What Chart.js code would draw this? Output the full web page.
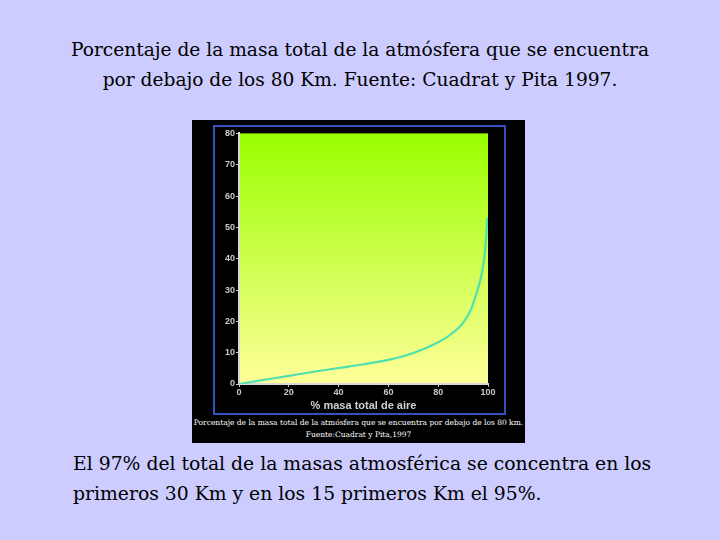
<!DOCTYPE html>
<html>
<head>
<meta charset="utf-8">
<script src="https://cdn.jsdelivr.net/npm/chart.js@4"></script>
<style>
  body { margin: 0; width: 720px; height: 540px; background: #ccccff; position: relative; overflow: hidden;
         font-family: 'DejaVu Serif', serif; color: #000; }
  #titulo { position: absolute; left: 0; top: 35px; width: 720px; text-align: center; font-size: 18.6px; line-height: 30px; }
  #caja { position: absolute; left: 192px; top: 120px; width: 333px; height: 323px; background: #000; }
  #marco { position: absolute; left: 21px; top: 5px; width: 289px; height: 286px; border: 2px solid #3350c0; }
  #marco canvas { position: absolute; left: 0; top: 0; }
  #pie { position: absolute; left: -5px; top: 297px; width: 343px; text-align: center; color: #fff;
         font-size: 7.5px; line-height: 12px; white-space: nowrap; }
  #nota { position: absolute; left: 73px; top: 449px; font-size: 18.8px; line-height: 30px; }
</style>
</head>
<body>
<div id="titulo">Porcentaje de la masa total de la atmósfera que se encuentra<br>por debajo de los 80 Km. Fuente: Cuadrat y Pita 1997.</div>
<div id="caja">
  <div id="marco"><canvas id="graficoMasa" width="289" height="286"></canvas></div>
  <div id="pie">Porcentaje de la masa total de la atmósfera que se encuentra por debajo de los 80 km.<br>Fuente:Cuadrat y Pita,1997</div>
</div>
<div id="nota">El 97% del total de la masas atmosférica se concentra en los<br>primeros 30 Km y en los 15 primeros Km el 95%.</div>
<script>
// % de masa acumulada y altitud (km)
const masaPct = [0, 10, 20, 30, 40, 50, 60, 70, 80, 85, 90, 93, 95, 97, 98.5, 99.2, 99.7];
const altitudKm = [0, 1.3, 2.6, 3.9, 5.1, 6.3, 7.7, 9.9, 13.3, 15.8, 19.5, 23.5, 28, 33.5, 40, 46, 53];
const ticksX = [0, 20, 40, 60, 80, 100];
const ticksY = [0, 10, 20, 30, 40, 50, 60, 70, 80];

const puntos = masaPct.map((m, i) => ({ x: m, y: altitudKm[i] }));

// fondo degradado del área de trazado
const fondoGradiente = {
  id: 'fondoGradiente',
  beforeDraw(chart) {
    const { ctx, chartArea: a } = chart;
    const g = ctx.createLinearGradient(0, a.top, 0, a.bottom);
    g.addColorStop(0, '#99ff00');
    g.addColorStop(1, '#ffff99');
    ctx.save();
    ctx.fillStyle = g;
    ctx.fillRect(a.left, a.top, a.width, a.height);
    ctx.restore();
  }
};

const fuenteTicks = { family: 'Liberation Sans', size: 9, weight: 'bold' };

new Chart(document.getElementById('graficoMasa'), {
  type: 'scatter',
  data: {
    datasets: [{
      data: puntos,
      showLine: true,
      borderColor: '#4fe0b0',
      borderWidth: 2.2,
      pointRadius: 0,
      cubicInterpolationMode: 'monotone'
    }]
  },
  options: {
    responsive: false,
    animation: false,
    layout: { padding: { top: 5, right: 16, left: 0, bottom: 0 } },
    plugins: { legend: { display: false }, tooltip: { enabled: false } },
    scales: {
      x: {
        type: 'linear', min: 0, max: 100,
        afterBuildTicks: s => { s.ticks = ticksX.map(v => ({ value: v })); },
        afterFit: s => { s.height = 29; },
        ticks: { color: '#c8c8c8', font: fuenteTicks, padding: 0 },
        grid: { drawOnChartArea: false, tickLength: 3, color: '#cccccc' },
        border: { color: '#d8d8d8', width: 2 },
        title: { display: true, text: '% masa total de aire', color: '#d0d0d0',
                 font: { family: 'Liberation Sans', size: 11, weight: 'bold' }, padding: { top: 1, bottom: 0 } }
      },
      y: {
        type: 'linear', min: 0, max: 80,
        afterBuildTicks: s => { s.ticks = ticksY.map(v => ({ value: v })); },
        afterFit: s => { s.width = 24; },
        ticks: { color: '#c8c8c8', font: fuenteTicks, padding: 1 },
        grid: { drawOnChartArea: false, tickLength: 3, color: '#cccccc' },
        border: { color: '#d8d8d8', width: 2 }
      }
    }
  },
  plugins: [fondoGradiente]
});
</script>
</body>
</html>
